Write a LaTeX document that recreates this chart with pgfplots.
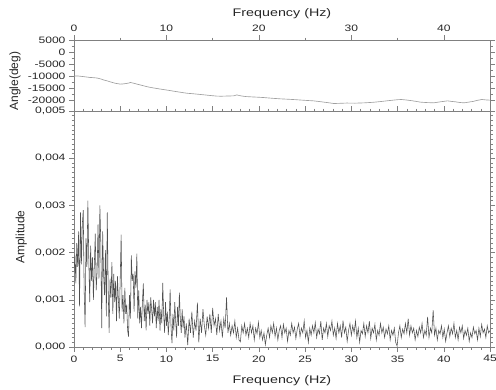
\documentclass[border=0pt]{standalone}
\usepackage{fontspec}
\setmainfont{Liberation Sans}[FakeStretch=1.3]
\newfontfamily\ylabfont{Liberation Sans}
\usepackage{pgfplots}
\pgfplotsset{compat=1.18}
\definecolor{axgray}{HTML}{808080}
\definecolor{ampline}{HTML}{505050}
\definecolor{angline}{HTML}{A0A0A0}
\begin{document}
\begin{tikzpicture}
\pgfplotsset{
  every axis/.append style={
    scale only axis, width=416pt, xmin=0, xmax=45,
    axis line style={color=axgray, line width=0.6pt},
    tick style={color=axgray, line width=0.5pt},
    tick align=outside, major tick length=5pt, minor tick length=2.5pt,
    tick label style={font=\fontsize{9.3}{10}\selectfont, text=black!85},
    label style={font=\fontsize{11}{12}\selectfont, text=black!85},
    /pgf/number format/assume math mode=true,
    /pgf/number format/1000 sep={},
    scaled ticks=false,
  }
}
\begin{axis}[name=bot, height=236pt,
  ymin=0, ymax=5,
  xtick={0,5,...,45}, minor x tick num=4,
  ytick={0,1,2,3,4,5},
  yticklabels={{0,000},{0,001},{0,002},{0,003},{0,004},{0,005}},
  minor y tick num=9,
  xlabel={Frequency (Hz)},
  xlabel style={at={(axis description cs:0.5,-0.144)}, anchor=center},
  ylabel={\ylabfont\fontsize{12}{13}\selectfont Amplitude},
  ylabel style={at={(axis description cs:-0.127,0.466)}, anchor=center},
]
\addplot[ampline, line width=0.55pt] table {
x y
0.0 1.60
0.1 1.95
0.2 1.35
0.3 2.20
0.4 1.70
0.5 2.45
0.6 0.86
0.7 2.85
0.8 1.75
0.9 2.60
1.0 2.90
1.1 1.20
1.2 0.42
1.3 2.30
1.4 1.70
1.5 3.10
1.6 1.85
1.7 0.95
1.8 2.15
1.9 1.40
2.0 1.90
2.1 1.00
2.2 1.75
2.3 2.40
2.4 1.20
2.5 1.60
2.6 2.60
2.7 1.45
2.8 3.00
2.9 2.20
3.0 0.40
3.1 2.45
3.2 1.55
3.3 1.10
3.4 2.05
3.5 0.65
3.6 2.85
3.7 1.20
3.8 0.30
3.9 1.45
4.0 1.05
4.1 1.80
4.2 0.70
4.3 1.55
4.4 0.95
4.5 1.40
4.6 0.55
4.7 1.50
4.8 1.00
4.9 0.60
5.0 1.45
5.1 2.38
5.2 0.75
5.3 1.10
5.4 0.50
5.5 1.25
5.6 0.70
5.7 0.90
5.8 0.35
5.9 0.22
6.0 1.10
6.1 0.60
6.2 1.94
6.3 1.40
6.4 1.55
6.5 0.75
6.6 1.60
6.7 1.25
6.8 1.98
6.9 0.60
7.0 1.20
7.1 0.50
7.2 0.85
7.3 0.40
7.4 0.95
7.5 1.35
7.6 0.55
7.7 0.90
7.8 0.35
7.9 1.00
8.0 0.70
8.1 0.95
8.2 0.45
8.3 1.05
8.4 0.80
8.5 0.50
8.6 1.00
8.7 0.65
8.8 0.95
8.9 0.40
9.0 0.85
9.1 0.55
9.2 1.00
9.3 0.35
9.4 0.80
9.5 0.50
9.6 1.36
9.7 0.70
9.8 0.30
9.9 0.95
10.0 0.45
10.1 0.75
10.2 0.25
10.3 0.60
10.4 1.22
10.5 0.40
10.6 0.08
10.7 0.70
10.8 0.35
10.9 0.95
11.0 0.55
11.1 0.20
11.2 0.85
11.3 0.45
11.4 1.15
11.5 0.60
11.6 0.30
11.7 0.80
11.8 0.40
11.9 0.65
12.0 0.20
12.15 0.50
12.30 0.04
12.45 0.60
12.60 0.30
12.75 0.75
12.90 0.20
13.05 0.55
13.20 0.35
13.35 0.94
13.50 0.10
13.65 0.60
13.80 0.30
13.95 0.80
14.10 0.45
14.25 0.25
14.40 0.65
14.55 0.40
14.70 0.70
14.85 0.30
15.00 0.83
15.15 0.45
15.30 0.60
15.45 0.25
15.60 0.70
15.75 0.35
15.90 0.55
16.05 0.20
16.20 0.60
16.35 0.40
16.50 1.05
16.65 0.30
16.80 0.50
16.95 0.25
17.10 0.45
17.25 0.30
17.40 0.55
17.55 0.20
17.70 0.40
17.85 0.15
18.00 0.11
18.15 0.45
18.30 0.30
18.45 0.50
18.60 0.25
18.75 0.40
18.90 0.20
19.05 0.50
19.20 0.30
19.35 0.45
19.50 0.15
19.65 0.40
19.80 0.28
19.95 0.52
20.10 0.20
20.25 0.35
20.40 0.15
20.55 0.30
20.70 0.05
20.85 0.25
21.00 0.40
21.15 0.20
21.30 0.45
21.45 0.30
21.60 0.50
21.75 0.22
21.90 0.40
22.05 0.15
22.20 0.35
22.35 0.45
22.50 0.20
22.65 0.48
22.80 0.30
22.95 0.40
23.10 0.12
23.25 0.35
23.40 0.25
23.55 0.50
23.70 0.30
23.85 0.42
24.00 0.18
24.15 0.38
24.30 0.50
24.45 0.22
24.60 0.40
24.75 0.30
24.90 0.55
25.05 0.20
25.20 0.35
25.35 0.10
25.50 0.40
25.65 0.25
25.80 0.45
25.95 0.30
26.10 0.52
26.25 0.20
26.40 0.38
26.55 0.28
26.70 0.55
26.85 0.15
27.00 0.40
27.15 0.30
27.30 0.50
27.45 0.22
27.60 0.45
27.75 0.35
27.90 0.55
28.05 0.25
28.20 0.40
28.35 0.18
28.50 0.50
28.65 0.30
28.80 0.45
28.95 0.20
29.10 0.56
29.25 0.30
29.40 0.42
29.55 0.12
29.70 0.35
29.85 0.50
30.00 0.25
30.15 0.45
30.30 0.30
30.45 0.55
30.60 0.20
30.75 0.40
30.90 0.10
31.05 0.35
31.20 0.28
31.35 0.50
31.50 0.22
31.65 0.45
31.80 0.30
31.95 0.55
32.10 0.18
32.25 0.40
32.40 0.30
32.55 0.48
32.70 0.15
32.85 0.35
33.00 0.25
33.15 0.50
33.30 0.30
33.45 0.42
33.60 0.20
33.75 0.38
33.90 0.28
34.05 0.45
34.20 0.15
34.35 0.35
34.50 0.25
34.65 0.40
34.80 0.10
34.95 0.02
35.10 0.30
35.25 0.45
35.40 0.20
35.55 0.38
35.70 0.28
35.85 0.50
36.00 0.30
36.15 0.60
36.30 0.25
36.45 0.45
36.60 0.30
36.75 0.40
36.90 0.15
37.05 0.35
37.20 0.22
37.35 0.42
37.50 0.30
37.65 0.50
37.80 0.20
37.95 0.35
38.10 0.25
38.25 0.64
38.40 0.20
38.55 0.40
38.70 0.30
38.85 0.78
39.00 0.25
39.15 0.40
39.30 0.15
39.45 0.35
39.60 0.28
39.75 0.45
39.90 0.20
40.05 0.38
40.20 0.12
40.35 0.30
40.50 0.45
40.65 0.22
40.80 0.40
40.95 0.28
41.10 0.50
41.25 0.20
41.40 0.35
41.55 0.15
41.70 0.42
41.85 0.30
42.00 0.45
42.15 0.18
42.30 0.35
42.45 0.25
42.60 0.40
42.75 0.12
42.90 0.30
43.05 0.20
43.20 0.42
43.35 0.28
43.50 0.35
43.65 0.15
43.80 0.40
43.95 0.22
44.10 0.48
44.25 0.30
44.40 0.38
44.55 0.20
44.70 0.45
44.85 0.30
45.00 0.35
};
\end{axis}
\begin{axis}[name=top, at={(bot.north west)}, anchor=south west, height=71pt,
  ymin=-24500, ymax=5000,
  ytick={-20000,-15000,-10000,-5000,0,5000}, minor y tick num=1,
  xtick={0,10,20,30,40}, minor x tick num=1,
  xtick pos=right, xticklabel pos=right,
  xlabel={Frequency (Hz)},
  xlabel style={at={(axis description cs:0.5,1.373)}, anchor=center},
  ylabel={\ylabfont\fontsize{12}{13}\selectfont Angle(deg)},
  ylabel style={at={(axis description cs:-0.142,0.42)}, anchor=center},
]
\addplot[angline, line width=0.65pt] table {
x y
0.0 -10000
0.4 -9950
0.8 -10100
1.2 -10300
1.7 -10550
2.1 -10650
2.5 -10800
2.9 -11200
3.2 -11600
3.6 -12000
3.9 -12360
4.2 -12700
4.5 -13000
5.0 -13330
5.3 -13250
5.6 -13100
5.9 -12900
6.1 -12640
6.5 -13000
6.8 -13330
7.2 -13700
7.5 -14000
7.9 -14400
8.3 -14720
8.8 -15050
9.2 -15300
9.7 -15600
10.1 -15830
10.6 -16150
11.0 -16400
11.5 -16700
11.9 -16940
12.3 -17150
12.8 -17300
13.2 -17450
13.7 -17640
14.1 -17800
14.6 -18000
15.0 -18150
15.5 -18330
16.0 -18350
16.4 -18300
16.9 -18250
17.3 -18190
17.6 -17800
17.9 -18100
18.2 -18300
18.6 -18500
19.1 -18610
19.8 -18750
20.5 -18900
21.4 -19200
22.3 -19440
23.1 -19600
24.0 -19800
24.9 -20050
25.9 -20280
26.5 -20550
27.0 -20800
27.6 -21100
28.1 -21390
28.8 -21300
29.5 -21200
30.4 -21250
31.4 -21110
32.3 -20900
33.2 -20560
33.9 -20250
34.5 -20000
35.0 -19800
35.4 -19720
36.0 -19950
36.5 -20200
37.0 -20500
37.5 -20830
38.2 -21000
38.9 -21110
39.6 -20700
40.4 -20280
40.8 -20500
41.3 -20700
41.7 -20950
42.2 -21110
42.7 -20800
43.2 -20500
43.6 -20100
44.1 -19720
44.6 -19900
45.0 -20000
};
\end{axis}
\pgfresetboundingbox
\path ([xshift=-74pt,yshift=-42pt]bot.south west) rectangle ([xshift=6pt,yshift=40pt]top.north east);
\end{tikzpicture}
\end{document}
